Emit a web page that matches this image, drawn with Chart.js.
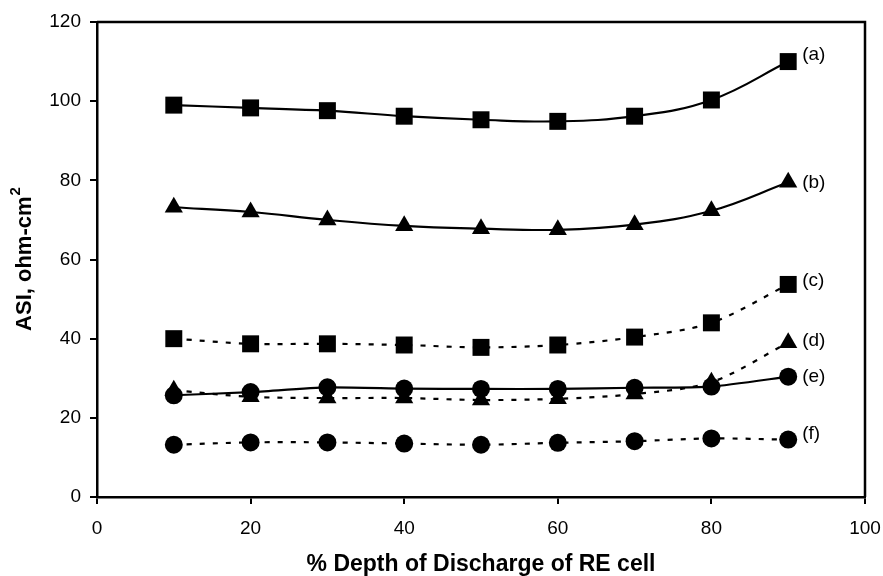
<!DOCTYPE html>
<html>
<head>
<meta charset="utf-8">
<script src="https://cdn.jsdelivr.net/npm/chart.js@4.4.1/dist/chart.umd.min.js"></script>
<style>
  html, body { margin: 0; padding: 0; background: #fff; }
  #wrap { width: 883px; height: 576px; }
</style>
</head>
<body>
<div id="wrap"><canvas id="asiChart" width="883" height="576"></canvas></div>
<script>
// depth of discharge (%)
const depth = [10, 20, 30, 40, 50, 60, 70, 80, 90];

// ASI values, ohm-cm2
const seriesA = [99.0, 98.3, 97.6, 96.2, 95.3, 94.9, 96.2, 100.3, 110.0];
const seriesB = [73.2, 72.0, 70.0, 68.5, 67.8, 67.5, 68.8, 72.3, 79.5];
const seriesC = [40.0, 38.7, 38.7, 38.4, 37.8, 38.4, 40.4, 44.0, 53.7];
const seriesD = [27.0, 25.3, 25.0, 25.0, 24.5, 24.8, 26.0, 29.0, 39.0];
const seriesE = [25.7, 26.5, 27.7, 27.4, 27.3, 27.3, 27.6, 27.9, 30.4];
const seriesF = [13.2, 13.8, 13.8, 13.5, 13.2, 13.7, 14.1, 14.8, 14.5];

const curveLabels = ['(a)', '(b)', '(c)', '(d)', '(e)', '(f)'];
const xTicks = [0, 20, 40, 60, 80, 100];
const yTicks = [0, 20, 40, 60, 80, 100, 120];
const yTitle = 'ASI, ohm-cm';
const yTitleSup = '2';

const labelShift = [-7, 0, -4, -2, 0, -6]; // vertical nudge of the (a)..(f) text

function toPoints(vals) {
    return vals.map((v, i) => ({ x: depth[i], y: v }));
}

function makeSet(vals, style, dashed, tension) {
    return {
        data: toPoints(vals),
        borderColor: '#000',
        backgroundColor: '#000',
        borderWidth: 2.2,
        borderDash: dashed ? [5, 8] : [],
        pointStyle: style,
        pointRadius: style === 'rect' ? 12 : (style === 'triangle' ? 10.5 : 9),
        pointBorderWidth: 0,
        tension: tension,
        fill: false
    };
}

// draws (a)...(f) beside the last point of each curve
const curveTags = {
    id: 'curveTags',
    afterDatasetsDraw(chart) {
        const ctx = chart.ctx;
        ctx.save();
        ctx.fillStyle = '#000';
        ctx.font = '19px "Liberation Sans", Arial, sans-serif';
        ctx.textBaseline = 'middle';
        chart.data.datasets.forEach((ds, i) => {
            const last = ds.data[ds.data.length - 1];
            const px = chart.scales.x.getPixelForValue(last.x);
            const py = chart.scales.y.getPixelForValue(last.y);
            ctx.fillText(curveLabels[i], px + 14, py + labelShift[i]);
        });
        ctx.restore();
    }
};

// top and right frame lines + rotated y title with a real superscript
const frame = {
    id: 'frame',
    beforeDatasetsDraw(chart) {
        const a = chart.chartArea;
        const ctx = chart.ctx;
        ctx.save();
        ctx.strokeStyle = '#000';
        ctx.lineWidth = 2.5;
        ctx.beginPath();
        ctx.moveTo(a.left, a.top);
        ctx.lineTo(a.right, a.top);
        ctx.lineTo(a.right, a.bottom);
        ctx.stroke();

        ctx.fillStyle = '#000';
        ctx.textBaseline = 'middle';
        ctx.translate(25, (a.top + a.bottom) / 2);
        ctx.rotate(-Math.PI / 2);
        ctx.font = 'bold 22px "Liberation Sans", Arial, sans-serif';
        const w1 = ctx.measureText(yTitle).width;
        ctx.font = 'bold 15px "Liberation Sans", Arial, sans-serif';
        const w2 = ctx.measureText(yTitleSup).width;
        const start = -(w1 + w2) / 2;
        ctx.font = 'bold 22px "Liberation Sans", Arial, sans-serif';
        ctx.fillText(yTitle, start, 0);
        ctx.font = 'bold 15px "Liberation Sans", Arial, sans-serif';
        ctx.fillText(yTitleSup, start + w1 + 1, -9);
        ctx.restore();
    }
};

const tickFont = { family: '"Liberation Sans", Arial, sans-serif', size: 19 };
const titleFont = { family: '"Liberation Sans", Arial, sans-serif', size: 23, weight: 'bold', lineHeight: 1 };

new Chart(document.getElementById('asiChart'), {
    type: 'line',
    data: {
        datasets: [
            makeSet(seriesA, 'rect', false, 0.4),
            makeSet(seriesB, 'triangle', false, 0.4),
            makeSet(seriesC, 'rect', true, 0.3),
            makeSet(seriesD, 'triangle', true, 0.3),
            makeSet(seriesE, 'circle', false, 0.2),
            makeSet(seriesF, 'circle', true, 0.3)
        ]
    },
    options: {
        responsive: false,
        animation: false,
        layout: { padding: { top: 22, right: 0, left: 0, bottom: 0 } },
        plugins: {
            legend: { display: false },
            tooltip: { enabled: false }
        },
        scales: {
            x: {
                type: 'linear',
                min: 0,
                max: 100,
                afterBuildTicks: s => { s.ticks = xTicks.map(v => ({ value: v })); },
                afterFit: s => { s.height = 79; s.paddingRight = 18; s.paddingLeft = 0; },
                ticks: { color: '#000', font: tickFont, padding: 13, maxRotation: 0 },
                grid: { drawOnChartArea: false, tickLength: 7, color: '#000', lineWidth: 2 },
                border: { color: '#000', width: 2.5 },
                title: { display: true, text: '% Depth of Discharge of RE cell', color: '#000', font: titleFont, padding: { top: 0, bottom: 0 } }
            },
            y: {
                min: 0,
                max: 120,
                afterBuildTicks: s => { s.ticks = yTicks.map(v => ({ value: v })); },
                afterFit: s => { s.width = 97; },
                ticks: { color: '#000', font: tickFont, padding: 9 },
                grid: { drawOnChartArea: false, tickLength: 7, color: '#000', lineWidth: 2 },
                border: { color: '#000', width: 2.5 },
                title: { display: false }
            }
        }
    },
    plugins: [frame, curveTags]
});
</script>
</body>
</html>
